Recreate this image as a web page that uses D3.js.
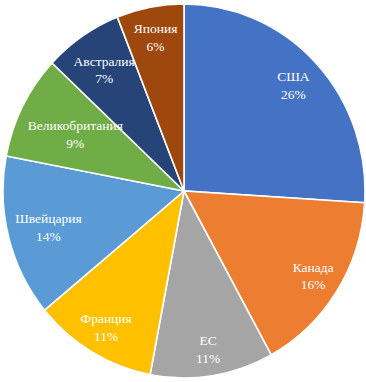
<!DOCTYPE html>
<html><head><meta charset="utf-8">
<script src="https://cdn.jsdelivr.net/npm/d3@7"></script>
<style>html,body{margin:0;padding:0;background:#fff;}svg{display:block;}</style>
</head><body>
<svg id="c" width="366" height="382"></svg>
<script>
const categories = ["США","Канада","ЕС","Франция","Швейцария","Великобритания","Австралия","Япония"];
const values = [26,16,11,11,14,9,7,6];
const colors = ["#4472C4","#ED7D31","#A5A5A5","#FFC000","#5B9BD5","#70AD47","#264478","#9E480E"];

const W=366,H=382, cx=184, cy=191, rx=181, ry=187;
const sy = ry/rx;
const svg = d3.select("#c");
const data = categories.map((c,i)=>({name:c,value:values[i],color:colors[i]}));
const pie = d3.pie().value(d=>d.value).sort(null);
const arcs = pie(data);
const arc = d3.arc().innerRadius(0).outerRadius(rx);
const g = svg.append("g").attr("transform",`translate(${cx},${cy}) scale(1,${sy})`);
g.selectAll("path").data(arcs).join("path")
  .attr("d",arc).attr("fill",d=>d.data.color)
  .attr("stroke","#fff").attr("stroke-width",1.6).attr("vector-effect","non-scaling-stroke");

const tg = svg.append("g").attr("transform",`translate(${cx},${cy})`);
const fs=13.5, lh=17.5;
arcs.forEach(a=>{
  const t = tg.append("text").attr("font-family","'Liberation Serif','Times New Roman',serif")
    .attr("font-size",fs).attr("fill","#fff").attr("text-anchor","middle");
  const s1 = t.append("tspan").attr("x",0).attr("dy",0).text(a.data.name);
  const s2 = t.append("tspan").attr("x",0).attr("dy",lh).text(Math.round(a.data.value)+"%");
  const w1 = s1.node().getComputedTextLength(), w2 = s2.node().getComputedTextLength();
  const lineH = 12, h = lh + lineH;
  const ang = (a.startAngle+a.endAngle)/2;
  const ux=Math.sin(ang), uy=-Math.cos(ang);
  let d=156;
  const lim=172;
  const boxes=[[w1,-h/2,-h/2+lineH],[w2,h/2-lineH,h/2]];
  while(d>40){
    const x=ux*d, y=uy*d*sy;
    let ok=true;
    for(const [w,y0,y1] of boxes){
      for(const [ox,oy] of [[-w/2,y0],[w/2,y0],[-w/2,y1],[w/2,y1]]){
        if(Math.hypot(x+ox,(y+oy)/sy)>lim){ok=false;}
      }
    }
    if(ok)break;
    d-=1;
  }
  const x=ux*d, y=uy*d*sy;
  t.attr("transform",`translate(${x},${y - h/2 + lineH*0.92})`);
});
</script>
</body></html>
